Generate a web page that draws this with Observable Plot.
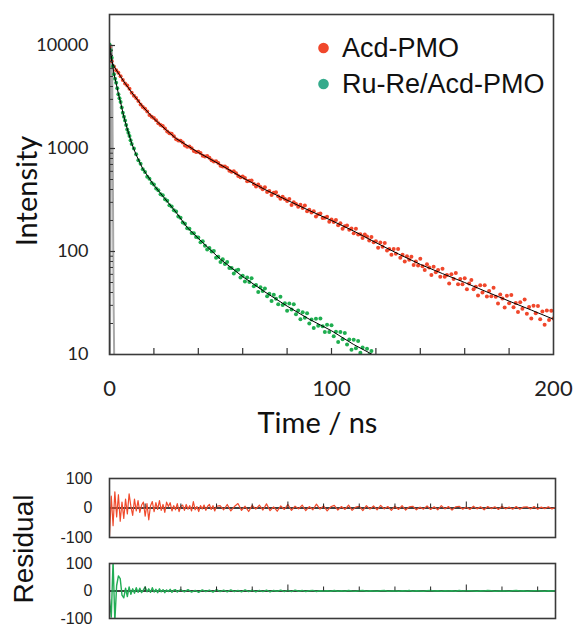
<!DOCTYPE html>
<html><head><meta charset="utf-8">
<script src="https://cdn.jsdelivr.net/npm/d3@7"></script>
<script src="https://cdn.jsdelivr.net/npm/@observablehq/plot@0.6"></script>
<style>
body{margin:0;background:#fff;}
#wrap{position:relative;width:577px;height:627px;overflow:hidden;background:#fff;}
</style></head><body><div id="wrap"></div>
<script>
// ---------- data ----------
const seriesNames = ["Acd-PMO", "Ru-Re/Acd-PMO"];
const legendColors = ["#f0472b", "#35ab8c"];
const redColor = "#f0472b";
const greenColor = "#1fae50";

// Acd-PMO decay points [time ns, counts]
const acdPoints = [
[0,9600],[1,7050],[2,6250],[3,5760],[4,5440],[5,5040],[6,4620],[7,4280],[8,4080],[9,3800],
[10,3480],[11,3250],[12,3090],[13,2890],[14,2670],[15,2530],[16,2430],[17,2290],[18,2120],[19,2030],
[20,1980],[21,1880],[22,1760],[23,1690],[24,1650],[25,1565],[26,1460],[27,1405],[28,1390],[29,1315],
[30,1230],[31,1195],[32,1190],[33,1145],[34,1070],[35,1040],[36,1045],[37,1003],[38,945],[39,925],
[40,930],[41,905],[42,850],[43,838],[44,845],[45,815],[46,770],[47,748],[48,752],[49,724],
[50,680],[51,668],[52,670],[53,646],[54,608],[55,595],[56,600],[57,575],[58,540],[59,527],[60,535],
[61,517],[62,480],[63,487],[64,489],[65,452],[66,427],[67,446],[68,422],[69,403],[70,420],
[71,379],[72,386],[73,354],[74,371],[75,376],[76,344],[77,325],[78,341],[79,323],[80,309],
[81,323],[82,283],[83,300],[84,290],[85,272],[86,285],[87,265],[88,280],[89,246],[90,255],
[91,239],[92,246],[93,219],[94,230],[95,234],[96,211],[97,213],[98,217],[99,194],[100,204],
[101,193],[102,202],[103,180],[104,188],[105,166],[106,176],[107,179],[108,163],[109,167],[110,150],
[111,166],[112,146],[113,147],[114,135],[115,146],[116,140],[117,128],[118,138],[119,123],
[120,126],[121,109],[122,122],[123,111],[124,121],[125,102],[126,106],[127,93],[128,106],[129,95],
[130,106],[131,87],[132,93],[133,80],[134,90],[135,83],[136,89],[137,74],[138,80],[139,73],
[140,85],[141,72],[142,66],[143,75],[144,70],[145,59],[146,71],[147,63],[148,66],[149,57],
[150,68],[151,57],[152,59],[153,49],[154,60],[155,54],[156,62],[157,48],[158,54],[159,48],
[160,55],[161,43],[162,49],[163,53],[164,43],[165,45.5],[166,37.5],[167,47],[168,40],[169,47],
[170,36.5],[171,41.3],[172,36.7],[173,44.5],[174,36.3],[175,31.3],[176,38.3],[177,35],[178,28.6],[179,37.2],
[180,31.4],[181,37.8],[182,28.7],[183,31.6],[184,25.8],[185,32.2],[186,27.8],[187,34.2],[188,24.9],[189,28.9],
[190,22.4],[191,29.7],[192,25.2],[193,29.6],[194,22],[195,26.2],[196,19.4],[197,26.8],[198,21.6],[199,26.6],[200,22.4]
];

// Ru-Re/Acd-PMO decay points [time ns, counts]
const ruRePoints = [
[0,10200],[0.5,9000],[1,7600],[1.5,6300],[2,5250],[2.5,4750],[3,4350],[3.5,3850],[4,3370],[4.5,3080],
[5,2830],[5.5,2500],[6,2230],[6.5,2030],[7,1870],[7.5,1690],[8,1530],[8.5,1420],[9,1320],[9.5,1200],
[10,1105],[11,1000],[12,880],[13,770],[14,712],[15,628],[16,590],[17,532],[18,508],[19,462],
[20,447],[21,408],[22,394],[23,360],[24,351],[25,322],[26,311],[27,282],[28,274],[29,251],
[30,244],[31,219],[32,213],[33,191],[34,186],[35,168],[36,166],[37,151],[38,150],[39,138],
[40,137],[41,123],[42,126],[43,114],[44,104.5],[45,108],[46,100],[47,101],[48,87],[49,89],
[50,79],[51,84],[52,75.5],[53,79],[54,69],[55,69],[56,61],[57,65.5],[58,66.5],[59,56],
[60,58],[61,51],[62,56],[63,50.5],[64,55],[65,46],[66,47.4],[67,40.5],[68,45],[69,41.3],
[70,43.7],[71,36.7],[72,38.8],[73,33],[74,38],[75,34.8],[76,30.8],[77,36.4],[78,30.2],[79,31.4],
[80,26.6],[81,31.3],[82,27.4],[83,30.8],[84,24.6],[85,26.7],[86,22],[87,25.7],[88,22.8],[89,25.2],
[90,20],[91,21.9],[92,18.1],[93,22.3],[94,19],[95,22.4],[96,18.8],[97,16.5],[98,19.4],[99,16.5],
[100,19.2],[101,15],[102,16.6],[103,13.2],[104,16.5],[105,14.1],[106,16.2],[107,12.5],[108,14],[109,11.1],
[110,13.9],[111,11.5],[112,13.5],[113,10.4],[114,11.7],[115,9.5],[116,11.4],[117,9.9],[118,10.8]
];

// fitted curves [time ns, counts]
const acdFit = [[0,9500],[1,7000],[2,6300],[3,5800],[5,5000],[7,4300],[10,3500],[15,2550],[20,1950],[25,1550],
[30,1250],[40,915],[50,695],[60,520],[70,400],[80,315],[90,250],[100,200],[110,158],[120,122],
[130,95],[140,75],[150,61],[160,50],[170,40.5],[180,33],[190,27],[200,22]];
const ruReFit = [[0,10500],[1,7500],[2,5300],[3,4300],[4,3400],[5,2800],[6,2250],[7,1850],[8,1550],[10,1120],
[12,870],[15,635],[20,440],[25,325],[30,240],[35,171],[40,134],[50,84],[60,57],[70,40.5],
[80,29.5],[90,22],[100,17],[110,12.5],[120,9.6]];

// instrument response [time ns, counts]
const irfPoints = [[0.2,8],[0.5,300],[0.8,6000],[1.0,10000],[1.2,7000],[1.5,600],[1.8,40],[2.2,6]];

// residuals [time ns, residual]
const acdResidual = [
[0,-95],[1,40],[2,-60],[3,55],[4,-30],[5,45],[6,-45],[7,20],[8,-35],[9,30],
[10,-20],[11,48],[12,5],[13,-25],[14,30],[15,-10],[16,25],[17,-15],[18,10],[19,20],
[20,-28],[21,15],[22,-40],[23,8],[24,22],[25,-12],[26,18],[27,-5],[28,25],[29,-8],
[30,12],[31,-15],[32,20],[33,5],[34,18],[35,-10],[36,8],[37,-6],[38,15],[39,-12],
[40,6],[41,10],[42,-8],[43,12],[44,-4],[45,8],[46,-10],[47,22],[48,-6],[49,5],
[50,-12],[51,8],[52,-3],[53,10],[54,-8],[55,6],[56,12],[57,-5],[58,8],[59,-10],[60,6],
[62,8],[64,-6],[66,12],[68,-10],[70,5],[72,15],[74,-8],[76,6],[78,-12],[80,9],
[82,-4],[84,10],[86,-7],[88,14],[90,-9],[92,4],[94,-11],[96,7],[98,-5],[100,12],
[102,-8],[104,6],[106,-3],[108,10],[110,-9],[112,5],[114,-6],[116,13],[118,-4],[120,7],
[122,-10],[124,4],[126,9],[128,-7],[130,5],[132,-5],[134,10],[136,-8],[138,3],[140,6],
[142,-9],[144,8],[146,-4],[148,7],[150,-6],[152,9],[154,-3],[156,5],[158,-8],[160,6],
[162,-5],[164,8],[166,-7],[168,4],[170,6],[172,-6],[174,3],[176,-4],[178,7],[180,-5],
[182,4],[184,-6],[186,8],[188,-3],[190,5],[192,-7],[194,4],[196,6],[198,-4],[200,3],
[202,-5],[204,6],[206,-3],[208,4],[210,-6],[212,5],[214,-2],[216,4],[218,-5],[220,6],
[222,-3],[224,3],[226,-4],[228,5],[230,-4],[232,3],[234,4],[236,-3],[238,5],[240,-4],
[242,3],[244,-2],[246,4],[248,-3],[250,2]
];
const ruReResidual = [
[0,-30],[1,-95],[2,110],[3,-110],[4,20],[5,55],[6,45],[7,-15],[8,-25],[9,10],
[10,-20],[11,15],[12,-12],[13,8],[14,-8],[15,12],[16,-5],[17,10],[18,-6],[19,4],
[20,15],[21,-3],[22,8],[23,-5],[24,12],[25,-4],[26,6],[27,-6],[28,8],[29,-3],
[30,5],[31,-6],[32,4],[33,-2],[34,6],[35,-5],[36,3],[37,5],[38,-4],[39,2],[40,4],
[42,-3],[44,5],[46,-4],[48,2],[50,-5],[52,4],[54,-2],[56,3],[58,-4],[60,5],
[62,-2],[64,3],[66,-3],[68,4],[70,-2],[72,2],[74,-3],[76,4],[78,-2],[80,3],
[82,-3],[84,2],[86,-2],[88,3],[90,-3],[92,2],[94,-1],[96,3],[98,-2],[100,2],
[102,-2],[104,3],[106,-1],[108,2],[110,-2],[112,1],[114,2],[116,-2],[118,1],[120,0],
[122,1],[124,-1],[126,2],[128,-1],[130,1],[132,-1],[134,2],[136,0],[138,-1],[140,1],
[142,2],[144,-1],[146,1],[148,0],[150,-1],[152,1],[154,2],[156,-1],[158,0],[160,1],
[162,-1],[164,1],[166,0],[168,2],[170,-1],[172,1],[174,0],[176,-1],[178,1],[180,2],
[182,0],[184,1],[186,-1],[188,1],[190,0],[192,1],[194,-1],[196,2],[198,0],[200,1],
[202,1],[204,0],[206,-1],[208,1],[210,0],[212,2],[214,1],[216,-1],[218,0],[220,1],
[222,0],[224,-1],[226,1],[228,2],[230,0],[232,1],[234,-1],[236,0],[238,1],[240,1],
[242,0],[244,-1],[246,1],[248,0],[250,1]
];

// axes
const xDomain = [0, 200];
const xLabelTicks = [0, 100, 200];
const xInnerTicks = [20, 40, 60, 80, 100, 120, 140, 160, 180];
const yDomain = [10, 20000];
const yLabelTicks = [10, 100, 1000, 10000];
const yMajorInner = [100, 1000, 10000];
const yMinorInner = [20,30,40,50,60,70,80,90,200,300,400,500,600,700,800,900,2000,3000,4000,5000,6000,7000,8000,9000];
const resXDomain = [0, 250];
const resYTicks = [-100, 0, 100];
const resMinorTicks = [20, 40, 60, 80, 120, 140, 160, 180, 220, 240];
const resMajorTicks = [100, 200];
const xTitle = "Time / ns";
const yTitle = "Intensity";
const resTitle = "Residual";

// ---------- drawing ----------
const wrap = document.getElementById("wrap");
function place(el, top) {
  el.style.position = "absolute";
  el.style.left = "0px";
  el.style.top = top + "px";
  el.style.maxWidth = "none";
  wrap.appendChild(el);
}

const main = Plot.plot({
  width: 577, height: 400,
  marginLeft: 109, marginRight: 24, marginTop: 14, marginBottom: 46,
  style: {fontFamily: "Lato, sans-serif", fontSize: "18px", color: "#222", background: "transparent", overflow: "visible"},
  x: {domain: xDomain, ticks: xLabelTicks, tickSize: 0, tickPadding: 26, tickFormat: d => String(d), label: null},
  y: {type: "log", domain: yDomain, ticks: yLabelTicks, tickSize: 0, tickPadding: 21, tickFormat: d => String(d), label: null},
  marks: [
    Plot.line(irfPoints, {x: d => d[0], y: d => d[1], stroke: "#a8a8a8", strokeWidth: 2, clip: true}),
    Plot.dot(acdPoints, {x: d => d[0], y: d => d[1], r: 2, fill: redColor, stroke: null, clip: true}),
    Plot.dot(ruRePoints, {x: d => d[0], y: d => d[1], r: 2, fill: greenColor, stroke: null, clip: true}),
    Plot.line(acdFit, {x: d => d[0], y: d => d[1], stroke: "#000", strokeWidth: 1, clip: true}),
    Plot.line(ruReFit, {x: d => d[0], y: d => d[1], stroke: "#000", strokeWidth: 1, clip: true}),
    Plot.tickX(xInnerTicks, {x: d => d, stroke: "#333", strokeWidth: 1.2, insetTop: 334}),
    Plot.tickY(yMinorInner, {y: d => d, stroke: "#333", strokeWidth: 1, insetRight: 440}),
    Plot.tickY(yMajorInner, {y: d => d, stroke: "#333", strokeWidth: 1.2, insetRight: 438}),
    Plot.frame({stroke: "#3a3a3a", strokeWidth: 1.6})
  ]
});
main.querySelectorAll("g[aria-label='x-axis tick label'] text").forEach(t => t.style.fontSize = "22px");
place(main, 0);

function residualPlot(points, color, width, height, mt, mb) {
  const fh = height - mt - mb;
  return Plot.plot({
    width: 577, height,
    marginLeft: 109, marginRight: 22, marginTop: mt, marginBottom: mb,
    style: {fontFamily: "'Liberation Sans', Arial, sans-serif", fontSize: "16px", color: "#222", background: "transparent", overflow: "visible"},
    x: {domain: resXDomain, axis: null},
    y: {domain: [-100, 100], ticks: resYTicks, tickSize: 0, tickPadding: 17, tickFormat: d => String(d), label: null},
    marks: [
      Plot.ruleY([0], {stroke: "#000", strokeWidth: 1.5}),
      Plot.line(points, {x: d => d[0], y: d => d[1], stroke: color, strokeWidth: width, clip: true}),
      Plot.tickX(resMinorTicks, {x: d => d, stroke: "#222", strokeWidth: 1, insetTop: fh / 2 - 4, insetBottom: fh / 2}),
      Plot.tickX(resMajorTicks, {x: d => d, stroke: "#222", strokeWidth: 1, insetTop: fh / 2 - 6, insetBottom: fh / 2}),
      Plot.frame({stroke: "#3a3a3a", strokeWidth: 1.6})
    ]
  });
}
place(residualPlot(acdResidual, "#f04a2c", 1.2, 75, 8, 8), 470);
place(residualPlot(ruReResidual, "#22ad55", 1.4, 67, 8, 4), 555);

// titles and legend
const ov = d3.select("#wrap").append("svg")
  .attr("width", 577).attr("height", 627)
  .style("position", "absolute").style("left", "0px").style("top", "0px")
  .style("pointer-events", "none");
ov.append("text").attr("x", 317.5).attr("y", 433).attr("text-anchor", "middle")
  .attr("font-family", "Lato, sans-serif").attr("font-size", 29).attr("fill", "#111").text(xTitle);
ov.append("text").attr("transform", "translate(37,191) rotate(-90)").attr("text-anchor", "middle")
  .attr("font-family", "Lato, sans-serif").attr("font-size", 29).attr("fill", "#111").text(yTitle);
ov.append("text").attr("transform", "translate(33,549) rotate(-90)").attr("text-anchor", "middle")
  .attr("font-family", "'Liberation Sans', Arial, sans-serif").attr("font-size", 28).attr("fill", "#111").text(resTitle);
const legendY = [48, 84];
seriesNames.forEach((name, i) => {
  ov.append("circle").attr("cx", 323.5).attr("cy", legendY[i]).attr("r", 5.3).attr("fill", legendColors[i]);
  ov.append("text").attr("x", 342).attr("y", legendY[i] + 9).attr("font-family", "'Liberation Sans', Arial, sans-serif")
    .attr("font-size", 27).attr("fill", "#111").text(name);
});
</script>
</body></html>
